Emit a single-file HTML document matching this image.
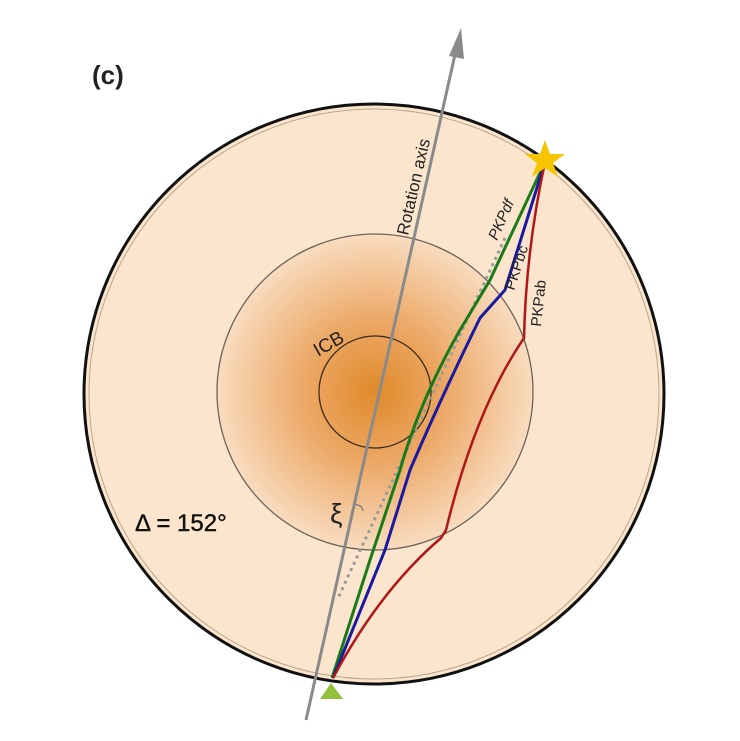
<!DOCTYPE html>
<html><head><meta charset="utf-8"><style>
html,body{margin:0;padding:0;background:#fff;width:740px;height:741px;overflow:hidden}
svg{display:block}
text{font-family:"Liberation Sans",sans-serif}
</style></head><body>
<svg width="740" height="741" viewBox="0 0 740 741" xmlns="http://www.w3.org/2000/svg">
<defs>
<radialGradient id="core" cx="375" cy="392" r="158" gradientUnits="userSpaceOnUse">
<stop offset="0" stop-color="#e08a2a"/>
<stop offset="0.45" stop-color="#eca866"/>
<stop offset="1" stop-color="#f8dcbf"/>
</radialGradient>
</defs>
<text x="92" y="84" font-size="26" font-weight="bold" fill="#222">(c)</text>
<circle cx="374" cy="394" r="290" fill="#fbe5cc" stroke="#111" stroke-width="3"/>
<circle cx="374" cy="394" r="285" fill="none" stroke="#b8a690" stroke-width="1"/>
<circle cx="375" cy="392" r="158" fill="url(#core)" stroke="#6e6258" stroke-width="1.3"/>
<circle cx="375" cy="392" r="56" fill="none" stroke="#3a2a1e" stroke-width="1.3"/>
<line x1="505" y1="238" x2="338" y2="598" stroke="#9a9a9a" stroke-width="3" stroke-dasharray="3,4"/>
<line x1="306" y1="720" x2="456" y2="50" stroke="#8a8a8a" stroke-width="3"/>
<polygon points="461,28 449,56 464,59" fill="#8a8a8a"/>
<path d="M545,162 L490,280 L460,330 Q420,400 400,470 L370,560 L332,678" fill="none" stroke="#1a7a1a" stroke-width="3"/>
<path d="M545,162 L505,290 L480,318 Q440,400 410,470 L385,550 L333,678" fill="none" stroke="#1a1aa0" stroke-width="3"/>
<path d="M545,162 Q526,250 524,338 Q475,410 446,530 L441,538 Q380,590 333,678" fill="none" stroke="#b01818" stroke-width="2.5"/>
<polygon points="545,140 550,154 565,154 553,163 558,177 545,168 532,177 537,163 525,154 540,154" fill="#f7c400"/>
<polygon points="331,683 320,699 343,699" fill="#94c13c"/>
<text transform="translate(408,236) rotate(-77)" font-size="17" fill="#222">Rotation axis</text>
<text transform="translate(497,241) rotate(-66)" font-size="15" fill="#222" font-style="italic">PKPdf</text>
<text transform="translate(514,291) rotate(-72)" font-size="15" fill="#222">PKPbc</text>
<text transform="translate(541,327) rotate(-84)" font-size="15" fill="#222">PKPab</text>
<text transform="translate(318,357) rotate(-30)" font-size="19" fill="#222">ICB</text>
<text x="330" y="523" font-size="28" fill="#222" font-family="DejaVu Serif,serif">ξ</text>
<path d="M353,505 q8,-2 10,6" fill="none" stroke="#888" stroke-width="1.5"/>
<text x="135" y="531" font-size="24" fill="#111" stroke="#111" stroke-width="0.4">Δ = 152°</text>
</svg>
</body></html>
